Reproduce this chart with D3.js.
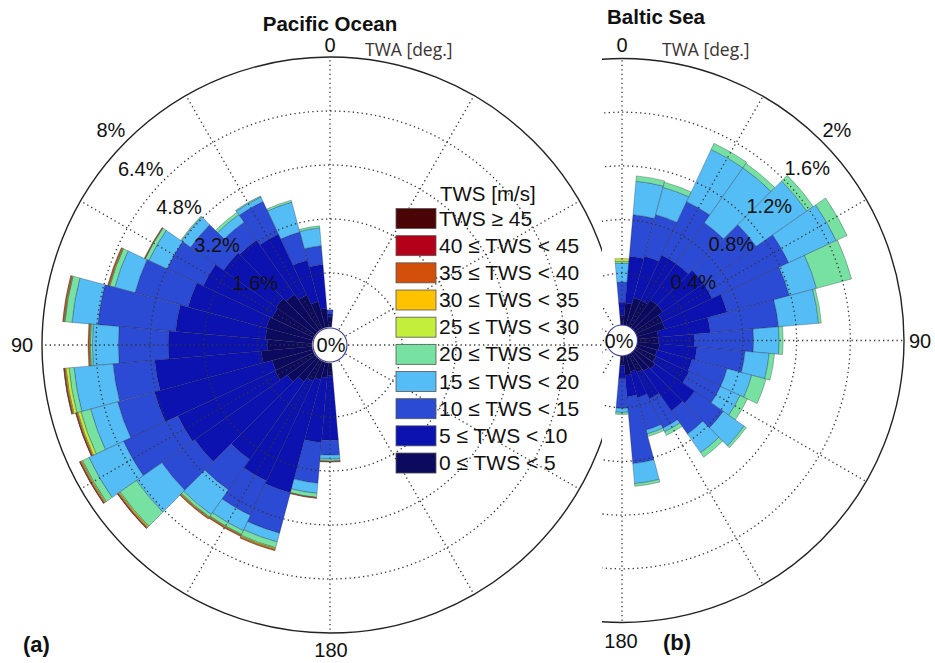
<!DOCTYPE html>
<html><head><meta charset="utf-8">
<script src="https://cdn.jsdelivr.net/npm/d3@7"></script>
<style>
body{margin:0;background:#fff}
svg{display:block}
text{font-family:"Liberation Sans",Arial,sans-serif}
</style>
</head><body>
<svg id="chart" width="935" height="663"></svg>
<script>
// ---------- DATA ----------
const directions = [0,10,20,30,40,50,60,70,80,90,100,110,120,130,140,150,160,170,180];
const speedClasses = ["0 \u2264 TWS < 5","5 \u2264 TWS < 10","10 \u2264 TWS < 15","15 \u2264 TWS < 20","20 \u2264 TWS < 25","25 \u2264 TWS < 30","30 \u2264 TWS < 35","35 \u2264 TWS < 40","40 \u2264 TWS < 45","TWS \u2265 45"];
const classColors = ["#0c0a5e","#0b12b0","#2c4bd4","#55bdf5","#76e1a0","#c4ee3c","#ffc200","#d2500a","#b5001a","#4a0406"];

// Pacific Ocean, frequency [%] per TWA bin and TWS class
const pacific_0_5   = [0.30,0.56,0.80,1.10,1.30,1.42,1.36,1.42,1.39,1.33,1.51,1.24,1.27,1.01,0.80,0.65,0.53,0.44,0.36];
const pacific_5_10  = [0.09,1.30,1.27,1.99,1.96,1.90,2.25,2.40,2.67,2.93,3.17,3.61,3.17,3.35,2.81,3.26,3.47,1.93,1.93];
const pacific_10_15 = [0.12,0.56,0.86,1.07,0.65,1.19,1.19,1.63,2.31,1.48,1.24,1.13,1.78,1.19,1.10,1.13,1.24,1.21,0.44];
const pacific_15_20 = [0.00,0.53,0.92,0.15,0.27,0.33,0.59,0.62,0.77,0.77,1.16,0.83,1.13,0.92,0.89,0.50,0.27,0.30,0.12];
const pacific_20_25 = [0.00,0.06,0.06,0.03,0.09,0.03,0.12,0.15,0.21,0.06,0.15,0.30,0.21,0.59,0.09,0.12,0.18,0.12,0.06];
const pacific_25_30 = [0,0,0,0,0,0,0,0.02,0.02,0.02,0.09,0.09,0.03,0.03,0.02,0.02,0.03,0,0];
const pacific_30_35 = [0,0,0,0,0,0,0.01,0.02,0.02,0.02,0.03,0.03,0.03,0.03,0.02,0.02,0.03,0.01,0.01];
const pacific_35_40 = [0,0,0,0,0,0,0.02,0.03,0.03,0.03,0.03,0.03,0.03,0.03,0.03,0.03,0.03,0.02,0.02];
const pacific_40_45 = [0,0,0,0,0,0,0,0,0,0,0.01,0.01,0.01,0.01,0,0,0,0,0];
const pacific_45_up = [0,0,0,0,0,0,0,0,0,0,0,0,0,0,0,0,0,0,0];

// Baltic Sea
const baltic_0_5   = [0.085,0.18,0.23,0.23,0.27,0.27,0.23,0.23,0.17,0.17,0.18,0.17,0.18,0.20,0.18,0.16,0.14,0.16,0.085];
const baltic_5_10  = [0.10,0.35,0.32,0.37,0.33,0.37,0.41,0.48,0.39,0.27,0.28,0.27,0.27,0.36,0.36,0.22,0.20,0.16,0.10];
const baltic_10_15 = [0.15,0.31,0.32,0.44,0.37,0.48,0.63,0.48,0.51,0.44,0.36,0.27,0.26,0.26,0.21,0.24,0.25,0.50,0.22];
const baltic_15_20 = [0.14,0.25,0.21,0.43,0.50,0.46,0.39,0.21,0.30,0.19,0.18,0.19,0.16,0.19,0.17,0.03,0.03,0.15,0.03];
const baltic_20_25 = [0.015,0.04,0.04,0.05,0.04,0.06,0.09,0.27,0.02,0.03,0.04,0.11,0.06,0.02,0.04,0.03,0.02,0.02,0.015];
const baltic_25_30 = [0.02,0,0,0,0,0,0,0,0,0,0,0,0,0,0,0,0,0,0];
const baltic_30_35 = [0,0,0,0,0,0,0,0,0,0,0,0,0,0,0,0,0,0,0];
const baltic_35_40 = [0,0,0,0,0,0,0,0,0,0,0,0,0,0,0,0,0,0,0];
const baltic_40_45 = [0,0,0,0,0,0,0,0,0,0,0,0,0,0,0,0,0,0,0];
const baltic_45_up = [0,0,0,0,0,0,0,0,0,0,0,0,0,0,0,0,0,0,0];

const pacificRingTicks = [1.6,3.2,4.8,6.4,8];
const pacificRingLabels = ["1.6%","3.2%","4.8%","6.4%","8%"];
const balticRingTicks = [0.4,0.8,1.2,1.6,2];
const balticRingLabels = ["0.4%","0.8%","1.2%","1.6%","2%"];
const spokeAngles = [0,30,60,90,120,150,180,210,240,270,300,330];

// ---------- DRAW ----------
const svg = d3.select("#chart");
const defs = svg.append("defs");
defs.append("clipPath").attr("id","clipL").append("rect").attr("x",0).attr("y",0).attr("width",602).attr("height",663);
defs.append("clipPath").attr("id","clipR").append("rect").attr("x",602).attr("y",0).attr("width",333).attr("height",663);

function drawRose(cfg){
  const g = svg.append("g").attr("clip-path", `url(#${cfg.clip})`);
  const r = d3.scaleLinear().domain([0, cfg.maxV]).range([cfg.r0, cfg.R]);
  const toRad = d => d*Math.PI/180;
  const arc = d3.arc();
  const bars = g.append("g");
  directions.forEach((dir, i) => {
    let cum = 0;
    cfg.series.forEach((s, k) => {
      const v = s[i];
      if (v <= 0) return;
      const a = toRad(dir - 5), b = toRad(dir + 5);
      const start = cfg.sign > 0 ? a : -b, end = cfg.sign > 0 ? b : -a;
      bars.append("path")
        .attr("transform", `translate(${cfg.cx},${cfg.cy})`)
        .attr("d", arc({innerRadius: r(cum), outerRadius: r(cum+v), startAngle: start, endAngle: end}))
        .attr("fill", classColors[k])
        .attr("stroke", "#1c1c3c").attr("stroke-width", 0.55).attr("stroke-opacity", 0.55);
      cum += v;
    });
  });
  // grid on top
  const grid = g.append("g").attr("fill","none").attr("stroke","#333").attr("stroke-width",1.3).attr("stroke-dasharray","1.3 3.2");
  cfg.ticks.slice(0,-1).forEach(t => {
    grid.append("circle").attr("cx",cfg.cx).attr("cy",cfg.cy).attr("r", r(t));
  });
  spokeAngles.forEach(an => {
    const s = Math.sin(toRad(an)), c = Math.cos(toRad(an));
    grid.append("line")
      .attr("x1", cfg.cx + r(0)*s).attr("y1", cfg.cy - r(0)*c)
      .attr("x2", cfg.cx + r(cfg.maxV)*s).attr("y2", cfg.cy - r(cfg.maxV)*c);
  });
  g.append("circle").attr("cx",cfg.cx).attr("cy",cfg.cy).attr("r", r(cfg.maxV))
    .attr("fill","none").attr("stroke","#222").attr("stroke-width",1.4);
  // centre hole
  g.append("circle").attr("cx",cfg.cx).attr("cy",cfg.cy).attr("r", cfg.holeR)
    .attr("fill","#fff").attr("stroke","#3a3a8c").attr("stroke-width",1.1);
  // ring labels (at 45 deg)
  const lab = svg.append("g").attr("font-size", 20).attr("fill","#111");
  cfg.ticks.forEach((t, j) => {
    const rr = r(t);
    const px = cfg.cx + cfg.sign*rr*Math.SQRT1_2, py = cfg.cy - rr*Math.SQRT1_2;
    lab.append("text")
      .attr("x", px + cfg.sign*1).attr("y", py - 4)
      .attr("text-anchor", cfg.sign > 0 ? "start" : "end")
      .text(cfg.labels[j]);
  });
  svg.append("text").attr("x", cfg.zeroX).attr("y", cfg.cy + 7).attr("text-anchor","middle")
    .attr("font-size",20).attr("fill","#111").text("0%");
}

drawRose({
  cx: 330, cy: 345, r0: 18, R: 288, maxV: 8, holeR: 17, sign: -1, clip: "clipL",
  series: [pacific_0_5,pacific_5_10,pacific_10_15,pacific_15_20,pacific_20_25,pacific_25_30,pacific_30_35,pacific_35_40,pacific_40_45,pacific_45_up],
  ticks: pacificRingTicks, labels: pacificRingLabels, zeroX: 331
});
drawRose({
  cx: 622, cy: 340.5, r0: 13.5, R: 282, maxV: 2, holeR: 15.5, sign: 1, clip: "clipR",
  series: [baltic_0_5,baltic_5_10,baltic_10_15,baltic_15_20,baltic_20_25,baltic_25_30,baltic_30_35,baltic_35_40,baltic_40_45,baltic_45_up],
  ticks: balticRingTicks, labels: balticRingLabels, zeroX: 619
});

// axis texts
const T = (x,y,txt,opt={}) => svg.append("text").attr("x",x).attr("y",y)
  .attr("text-anchor", opt.anchor || "middle").attr("font-size", opt.size || 20)
  .attr("font-weight", opt.weight || "normal").attr("fill", opt.fill || "#111")
  .style("font-family", opt.family || null).text(txt);

T(330, 31, "Pacific Ocean", {weight:"bold", size:20.5});
T(607, 24, "Baltic Sea", {weight:"bold", size:20.5, anchor:"start"});
T(330, 52, "0");
T(622, 52, "0");
T(365, 56, "TWA [deg.]", {anchor:"start", size:17.5, fill:"#3a3232", family:"'Open Sans', sans-serif"});
T(662, 56, "TWA [deg.]", {anchor:"start", size:17.5, fill:"#3a3232", family:"'Open Sans', sans-serif"});
T(22, 352, "90");
T(920, 348, "90");
T(331, 657, "180");
T(621, 648, "180");
T(23, 652, "(a)", {anchor:"start", weight:"bold", size:22});
T(663, 650, "(b)", {anchor:"start", weight:"bold", size:22});

// legend
const leg = svg.append("g");
leg.append("text").attr("x",440).attr("y",201).attr("font-size",20.5).attr("fill","#111").text("TWS [m/s]");
const legendOrder = d3.range(speedClasses.length).reverse();
legendOrder.forEach((k, i) => {
  const yc = 218.5 + i*27.17;
  leg.append("rect").attr("x",396).attr("y",yc-10).attr("width",40).attr("height",20)
    .attr("fill",classColors[k]).attr("stroke","#555").attr("stroke-width",0.8);
  leg.append("text").attr("x",439).attr("y",yc+7).attr("font-size",21).attr("fill","#111").text(speedClasses[k]);
});
</script>
</body></html>
